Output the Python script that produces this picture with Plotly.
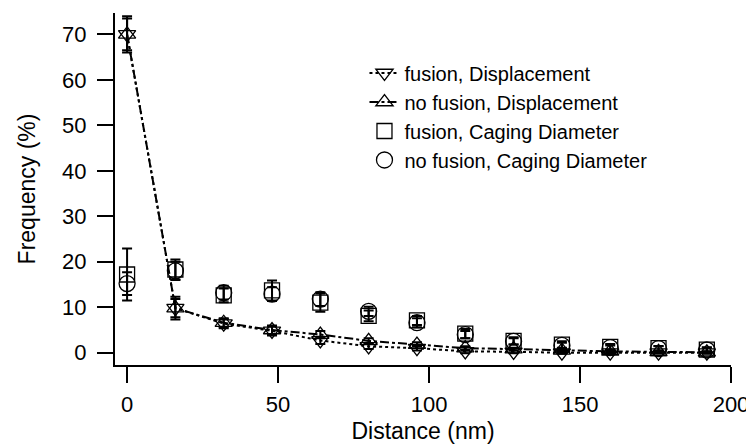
import plotly.graph_objects as go

distance = [0, 16, 32, 48, 64, 80, 96, 112, 128, 144, 160, 176, 192]

fus_disp = [70, 9.8, 6.4, 4.8, 2.7, 1.4, 1.0, 0.3, 0.2, 0.0, 0.0, 0.0, 0.0]
fus_disp_err = [4.0, 2.5, 1.0, 1.0, 0.8, 0.6, 0.5, 0.4, 0.3, 0.2, 0.2, 0.2, 0.2]
nof_disp = [70, 9.8, 6.6, 5.0, 4.0, 2.6, 1.8, 1.0, 0.8, 0.5, 0.3, 0.2, 0.1]
nof_disp_err = [3.5, 2.0, 1.0, 1.0, 0.8, 0.6, 0.5, 0.4, 0.3, 0.2, 0.2, 0.2, 0.2]

fus_cage = [17.2, 18.3, 12.6, 13.7, 11.0, 8.1, 7.1, 4.2, 2.6, 1.8, 1.3, 1.0, 0.7]
fus_cage_err = [5.7, 2.2, 1.5, 2.2, 2.0, 1.2, 1.0, 1.0, 0.8, 0.7, 0.6, 0.5, 0.5]
nof_cage = [15.2, 18.0, 13.2, 12.9, 11.8, 9.1, 6.6, 4.0, 2.5, 1.6, 1.1, 0.9, 0.6]
nof_cage_err = [2.5, 2.0, 1.5, 1.5, 1.5, 1.0, 1.0, 0.8, 0.7, 0.6, 0.5, 0.5, 0.5]

x_ticks = [0, 50, 100, 150, 200]
y_ticks = [0, 10, 20, 30, 40, 50, 60, 70]

FONT = "Liberation Sans, Arial, sans-serif"
err_style = dict(type="data", color="black", thickness=2, width=5)

fig = go.Figure()
fig.add_trace(go.Scatter(
    x=distance, y=fus_disp, name="fusion, Displacement", mode="lines+markers",
    line=dict(color="black", width=2, dash="dot"),
    marker=dict(symbol="triangle-down-open", size=15, color="black", line=dict(width=1.3)),
    error_y=dict(array=fus_disp_err, **err_style)))
fig.add_trace(go.Scatter(
    x=distance, y=nof_disp, name="no fusion, Displacement", mode="lines+markers",
    line=dict(color="black", width=2, dash="dashdot"),
    marker=dict(symbol="triangle-up-open", size=15, color="black", line=dict(width=1.3)),
    error_y=dict(array=nof_disp_err, **err_style)))
fig.add_trace(go.Scatter(
    x=distance, y=fus_cage, name="fusion, Caging Diameter", mode="markers",
    marker=dict(symbol="square-open", size=15, color="black", line=dict(width=1.3)),
    error_y=dict(array=fus_cage_err, **err_style)))
fig.add_trace(go.Scatter(
    x=distance, y=nof_cage, name="no fusion, Caging Diameter", mode="markers",
    marker=dict(symbol="circle-open", size=16, color="black", line=dict(width=1.3)),
    error_y=dict(array=nof_cage_err, **err_style)))

axis_common = dict(showgrid=False, zeroline=False, showline=True, linecolor="black",
                   linewidth=2, ticks="outside", ticklen=16, tickwidth=2, tickcolor="black",
                   automargin=False,
                   tickfont=dict(family=FONT, size=22, color="black"))

# page body has an 8px default margin; figure size/margins compensate for it
fig.update_layout(
    width=746, height=436,
    margin=dict(l=107, r=23, t=5, b=79),
    paper_bgcolor="white", plot_bgcolor="white",
    font=dict(family=FONT, color="black"),
    xaxis=dict(range=[-4, 200], tickvals=x_ticks, ticklabelstandoff=3,
               title=dict(text="Distance (nm)", font=dict(family=FONT, size=23), standoff=7),
               **axis_common),
    yaxis=dict(range=[-2.7, 74.7], tickvals=y_ticks, ticklabelstandoff=6,
               title=dict(text="Frequency (%)", font=dict(family=FONT, size=23), standoff=20),
               **axis_common),
    legend=dict(x=0.405, y=0.885, xanchor="left", yanchor="top",
                font=dict(family=FONT, size=20, color="black"),
                bgcolor="rgba(0,0,0,0)", tracegroupgap=0, itemwidth=30),
)

fig.write_html("out.html")
